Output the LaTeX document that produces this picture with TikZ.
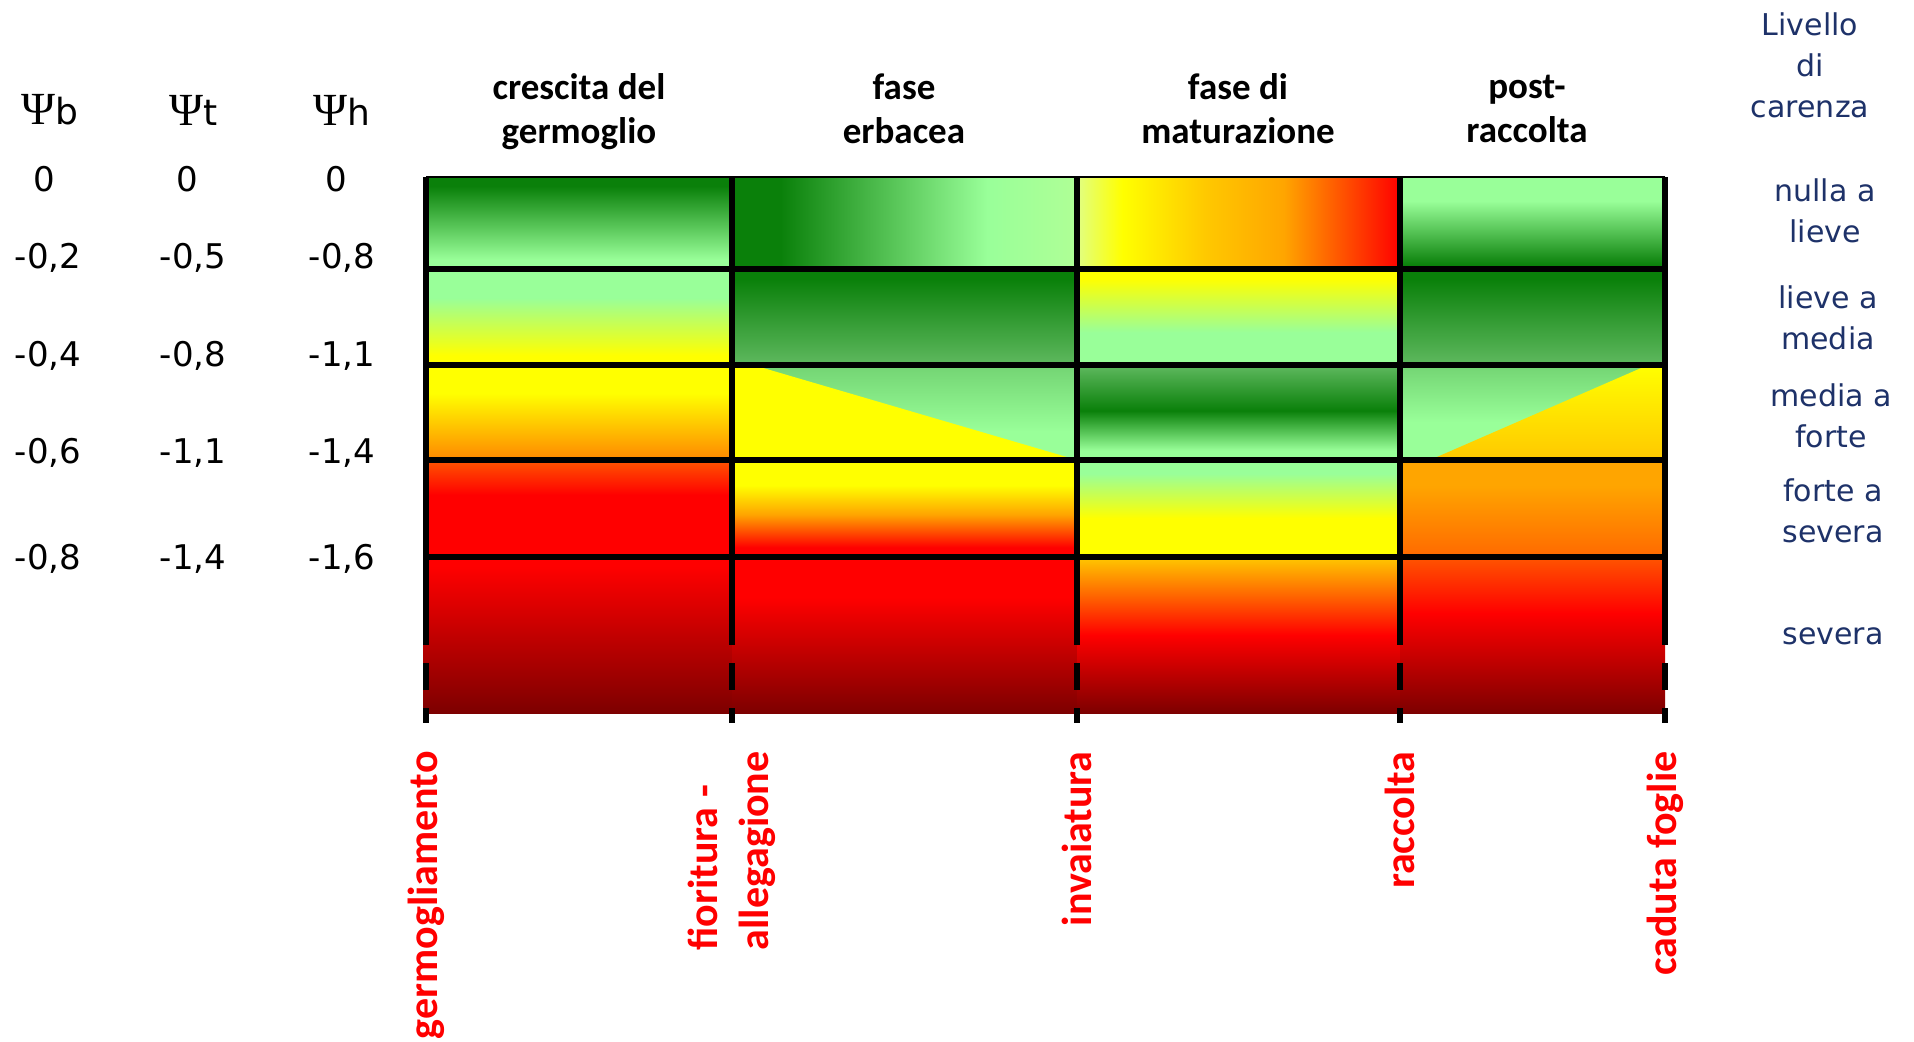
\documentclass[tikz,border=0pt]{standalone}
\usepackage{fontspec}
\setmainfont{Carlito}
\newfontfamily\comic{DejaVu Sans}
\newfontfamily\grk{Liberation Serif}
\definecolor{dg}{RGB}{10,128,10}
\definecolor{lg}{RGB}{153,255,153}
\definecolor{mg}{RGB}{95,185,95}
\definecolor{mgb}{RGB}{115,212,115}
\definecolor{yl}{RGB}{255,255,0}
\definecolor{ylg}{RGB}{225,255,130}
\definecolor{lgy}{RGB}{175,255,150}
\definecolor{orA}{RGB}{255,135,0}
\definecolor{orB}{RGB}{255,165,0}
\definecolor{orC}{RGB}{255,200,0}
\definecolor{orD}{RGB}{255,85,0}
\definecolor{orE}{RGB}{255,105,0}
\definecolor{rd}{RGB}{255,0,0}
\definecolor{dr}{RGB}{125,0,0}
\definecolor{navy}{RGB}{30,50,105}
% vertical shadings: 25bp = bottom of cell, 75bp = top of cell
\pgfdeclareverticalshading{cAa}{100bp}{color(0bp)=(lg); color(30bp)=(lg); color(70bp)=(dg); color(100bp)=(dg)}
\pgfdeclareverticalshading{cAb}{100bp}{color(0bp)=(yl); color(30bp)=(yl); color(60bp)=(lg); color(100bp)=(lg)}
\pgfdeclareverticalshading{cAc}{100bp}{color(0bp)=(orA); color(25bp)=(orA); color(60bp)=(yl); color(100bp)=(yl)}
\pgfdeclareverticalshading{cAd}{100bp}{color(0bp)=(rd); color(57bp)=(rd); color(75bp)=(orD); color(100bp)=(orD)}
\pgfdeclareverticalshading{cAe}{100bp}{color(0bp)=(dr); color(25bp)=(dr); color(72bp)=(rd); color(100bp)=(rd)}
\pgfdeclarehorizontalshading{cBa}{100bp}{color(0bp)=(dg); color(32bp)=(dg); color(62bp)=(lg); color(75bp)=(lgy); color(100bp)=(lgy)}
\pgfdeclareverticalshading{cBb}{100bp}{color(0bp)=(mg); color(25bp)=(mg); color(70bp)=(dg); color(100bp)=(dg)}
\pgfdeclareverticalshading{cBc}{100bp}{color(0bp)=(lg); color(40bp)=(lg); color(75bp)=(mgb); color(100bp)=(mgb)}
\pgfdeclareverticalshading{cBd}{100bp}{color(0bp)=(rd); color(30bp)=(rd); color(47bp)=(orB); color(62bp)=(yl); color(100bp)=(yl)}
\pgfdeclareverticalshading{cBe}{100bp}{color(0bp)=(dr); color(25bp)=(dr); color(62bp)=(rd); color(100bp)=(rd)}
\pgfdeclarehorizontalshading{cCa}{100bp}{color(0bp)=(ylg); color(25bp)=(ylg); color(32bp)=(yl); color(45bp)=(orC); color(57bp)=(orB); color(75bp)=(rd); color(100bp)=(rd)}
\pgfdeclareverticalshading{cCb}{100bp}{color(0bp)=(lg); color(42bp)=(lg); color(70bp)=(yl); color(100bp)=(yl)}
\pgfdeclareverticalshading{cCc}{100bp}{color(0bp)=(lg); color(30bp)=(lg); color(51bp)=(dg); color(75bp)=(mg); color(100bp)=(mg)}
\pgfdeclareverticalshading{cCd}{100bp}{color(0bp)=(yl); color(45bp)=(yl); color(68bp)=(lg); color(100bp)=(lg)}
\pgfdeclareverticalshading{cCe}{100bp}{color(0bp)=(dr); color(25bp)=(dr); color(50bp)=(rd); color(75bp)=(orC); color(100bp)=(orC)}
\pgfdeclareverticalshading{cDa}{100bp}{color(0bp)=(dg); color(27bp)=(dg); color(62bp)=(lg); color(100bp)=(lg)}
\pgfdeclareverticalshading{cDc}{100bp}{color(0bp)=(lg); color(45bp)=(lg); color(75bp)=(mgb); color(100bp)=(mgb)}
\pgfdeclareverticalshading{cDy}{100bp}{color(0bp)=(orC); color(25bp)=(orC); color(75bp)=(yl); color(100bp)=(yl)}
\pgfdeclareverticalshading{cDd}{100bp}{color(0bp)=(orE); color(25bp)=(orE); color(62bp)=(orB); color(100bp)=(orB)}
\pgfdeclareverticalshading{cDe}{100bp}{color(0bp)=(dr); color(25bp)=(dr); color(57bp)=(rd); color(75bp)=(orD); color(100bp)=(orD)}
\begin{document}
\begin{tikzpicture}[x=0.5pt,y=-0.5pt,
  hdr/.style={font=\fontsize{18.5}{22}\selectfont\bfseries, align=center, inner sep=0pt},
  redlab/.style={font=\fontsize{21}{25.5}\selectfont\bfseries, text=rd, align=left, inner sep=0pt, rotate=90, anchor=east},
  psilab/.style={font=\comic\fontsize{17}{20}\selectfont, inner sep=0pt},
  psihead/.style={font=\comic\fontsize{18}{20}\selectfont, inner sep=0pt},
  lvl/.style={font=\comic\fontsize{15}{20.5}\selectfont, text=navy, align=center, inner sep=0pt},
  vline/.style={line width=3.4pt},
  hline/.style={line width=2.8pt}]
\useasboundingbox (0,0) rectangle (1914,1042);
\fill[white] (0,0) rectangle (1914,1042);
% column x: 426 732 1077 1400 1665 ; row y: 177 269 365 460 557 713
% column 1
\shade[shading=cAa] (426,177) rectangle (732,269);
\shade[shading=cAb] (426,269) rectangle (732,365);
\shade[shading=cAc] (426,365) rectangle (732,460);
\shade[shading=cAd] (426,460) rectangle (732,557);
\shade[shading=cAe] (423,557) rectangle (732,713);
% column 2
\shade[shading=cBa] (732,177) rectangle (1077,269);
\shade[shading=cBb] (732,269) rectangle (1077,365);
\shade[shading=cBc] (732,365) rectangle (1077,460);
\fill[yl] (732,365) -- (753,365) -- (1077,460) -- (732,460) -- cycle;
\shade[shading=cBd] (732,460) rectangle (1077,557);
\shade[shading=cBe] (732,557) rectangle (1077,713);
% column 3
\shade[shading=cCa] (1077,177) rectangle (1400,269);
\shade[shading=cCb] (1077,269) rectangle (1400,365);
\shade[shading=cCc] (1077,365) rectangle (1400,460);
\shade[shading=cCd] (1077,460) rectangle (1400,557);
\shade[shading=cCe] (1077,557) rectangle (1400,713);
% column 4
\shade[shading=cDa] (1400,177) rectangle (1665,269);
\shade[shading=cBb] (1400,269) rectangle (1665,365);
\shade[shading=cDc] (1400,365) rectangle (1665,460);
\shade[shading=cDy] (1430,460) -- (1648,365) -- (1665,365) -- (1665,460) -- cycle;
\shade[shading=cDd] (1400,460) rectangle (1665,557);
\shade[shading=cDe] (1400,557) rectangle (1665,713);
% grid lines
\draw[line width=1.3pt] (426,177) -- (1665,177);
\foreach \yy in {269,365,460,557} \draw[hline] (426,\yy) -- (1665,\yy);
\foreach \xx in {426,732,1077,1400,1665} {
  \draw[vline] (\xx,177) -- (\xx,645);
  \draw[vline] (\xx,663) -- (\xx,690);
  \draw[vline] (\xx,708) -- (\xx,723);
}
% headers
\node[hdr] (h1) at (579,112) {crescita del\\germoglio};
\node[hdr] (h2) at (904,109) {fase\\erbacea};
\node[hdr] (h3) at (1238,109) {fase di\\maturazione};
\node[hdr] (h4) at (1527,109) {post-\\raccolta};
% psi labels
\node[psihead] (pb) at (50,110) {{\grk\fontsize{23}{24}\selectfont Ψ}b};
\node[psihead] (pt) at (194,110) {{\grk\fontsize{23}{24}\selectfont Ψ}t};
\node[psihead] (ph) at (342,110) {{\grk\fontsize{23}{24}\selectfont Ψ}h};
\node[psilab] (b0) at (44,179) {0};
\node[psilab] (t0) at (187,179) {0};
\node[psilab] (h0) at (336,179) {0};
\node[psilab] (b1) at (48,258) {-0,2};
\node[psilab] (t1) at (193,258) {-0,5};
\node[psilab] (h1v) at (342,258) {-0,8};
\node[psilab] (b2) at (48,356) {-0,4};
\node[psilab] (t2) at (193,356) {-0,8};
\node[psilab] (h2v) at (342,356) {-1,1};
\node[psilab] (b3) at (48,453) {-0,6};
\node[psilab] (t3) at (193,453) {-1,1};
\node[psilab] (h3v) at (342,453) {-1,4};
\node[psilab] (b4) at (48,559) {-0,8};
\node[psilab] (t4) at (193,559) {-1,4};
\node[psilab] (h4v) at (342,559) {-1,6};
% level labels
\node[lvl] (lv) at (1810,65) {Livello\\di\\carenza};
\node[lvl] (l1) at (1825,211) {nulla a\\lieve};
\node[lvl] (l2) at (1828,318) {lieve a\\media};
\node[lvl] (l3) at (1831,416) {media a\\forte};
\node[lvl] (l4) at (1833,511) {forte a\\severa};
\node[lvl] (l5) at (1833,636) {severa};
% stage labels
\node[redlab] (s1) at (426,751) {germogliamento};
\node[redlab] (s2) at (732,751) {fioritura -\\allegagione};
\node[redlab] (s3) at (1077,751) {invaiatura};
\node[redlab] (s4) at (1400,751) {raccolta};
\node[redlab] (s5) at (1665,751) {caduta foglie};
\end{tikzpicture}
\end{document}
